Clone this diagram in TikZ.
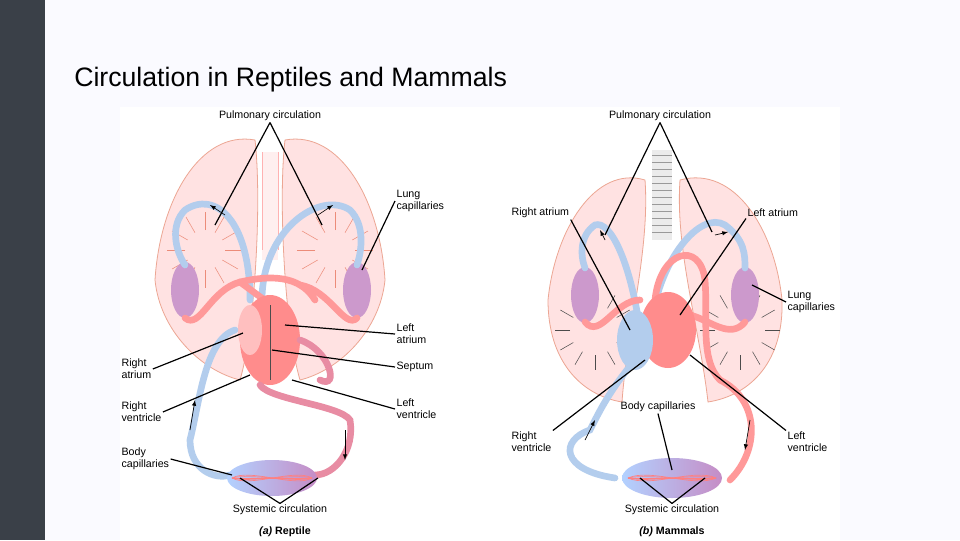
\documentclass[tikz,border=0pt]{standalone}
\usepackage{fontspec}
\setmainfont{Liberation Sans}
\definecolor{sidebar}{RGB}{58,64,72}
\begin{document}
\begin{tikzpicture}[x=0.75pt,y=-0.75pt,
 lbl/.style={font=\fontsize{8}{9}\selectfont,align=left,inner sep=1pt},
 captext/.style={font=\fontsize{8}{9}\selectfont,inner sep=1pt},
 lead/.style={black,line width=0.9pt},
 lung/.style={fill=pink!45,draw=red!40!brown!50,line width=0.6pt},
 twig/.style={draw=red!50!brown!60,line width=0.4pt},
 blue vessel/.style={draw=cyan!60!blue!30,line width=5pt,line cap=round},
 red vessel/.style={draw=red!40,line width=5pt,line cap=round},
 purple vessel/.style={draw=violet!40!red!45,line width=5pt,line cap=round},
 flow/.style={-latex,black,line width=0.5pt}]
\useasboundingbox (0,0) rectangle (960,540);
\fill[blue!2!white] (0,0) rectangle (960,540);
\fill[sidebar] (0,0) rectangle (45,540);
\node[anchor=west,font=\fontsize{20}{24}\selectfont,inner sep=0pt] (title) at (74,80) {Circulation in Reptiles and Mammals};
\fill[white] (120,107) rectangle (840,540);

% ===== Reptile =====
\draw[lung] (255,140) .. controls (200,130) and (160,200) .. (155,280) .. controls (160,330) and (200,370) .. (240,380) .. controls (255,330) and (262,200) .. (255,140);
\draw[lung] (285,140) .. controls (340,130) and (380,200) .. (385,280) .. controls (380,330) and (340,370) .. (300,380) .. controls (285,330) and (278,200) .. (285,140);
\foreach \a in {0,30,...,330} {
 \draw[twig] (205,250) ++(\a:20) -- ++(\a:18);
 \draw[twig] (335,250) ++(\a:20) -- ++(\a:18);}
\fill[pink!25] (262,152) rectangle (278,260);
\draw[red!30] (262,152) -- (262,250) (278,152) -- (278,250);
\fill[violet!40] (185,290) ellipse (14 and 28);
\fill[violet!40] (357,290) ellipse (14 and 28);
\draw[blue vessel] (250,300) .. controls (250,220) and (215,190) .. (185,210) .. controls (170,225) and (175,250) .. (185,265);
\draw[blue vessel] (262,300) .. controls (262,230) and (320,190) .. (350,210) .. controls (365,225) and (362,250) .. (357,265);
\draw[red vessel] (185,318) .. controls (200,330) and (210,290) .. (240,282) .. controls (270,275) and (300,275) .. (315,300);
\draw[red vessel] (357,318) .. controls (345,330) and (330,290) .. (300,285);
\draw[red vessel] (240,282) -- (278,310);
\fill[red!45] (270,340) ellipse (30 and 45);
\fill[red!25] (250,330) ellipse (12 and 25);
\draw[black!70] (270,305) -- (270,380);
\draw[blue vessel] (235,330) .. controls (205,340) and (200,400) .. (190,440) .. controls (190,470) and (215,480) .. (230,475);
\draw[purple vessel] (300,340) .. controls (330,350) and (340,390) .. (320,380);
\draw[purple vessel] (260,385) .. controls (270,400) and (340,405) .. (350,420) .. controls (355,450) and (335,475) .. (315,475);
\shade[left color=cyan!40!blue!30,right color=violet!45] (272,478) ellipse (45 and 18);
\foreach \i in {-30,-15,0,15,30} \draw[red!50,line width=0.5pt] (232,478) .. controls (250,478+\i/3) and (295,478-\i/3) .. (312,478);
\draw[flow] (190,430) -- (195,400);
\draw[flow] (345,430) -- (345,460);
\draw[flow] (225,215) -- (210,205);
\draw[flow] (318,215) -- (333,205);

\node[captext] (pa) at (270,116) {Pulmonary circulation};
\node[lbl,anchor=west] (lca) at (395,201) {Lung\\capillaries};
\node[lbl,anchor=west] (laa) at (395,334) {Left\\atrium};
\node[lbl,anchor=west] (sa) at (395,367) {Septum};
\node[lbl,anchor=west] (lva) at (395,409) {Left\\ventricle};
\node[lbl,anchor=west] (raa) at (120,369) {Right\\atrium};
\node[lbl,anchor=west] (rva) at (120,412) {Right\\ventricle};
\node[lbl,anchor=west] (bca) at (120,459) {Body\\capillaries};
\node[captext] (sca) at (280,510) {Systemic circulation};
\node[captext] (ra) at (285,532) {\textbf{\textit{(a)} Reptile}};
\coordinate (p1) at (215,225); \coordinate (p2) at (322,225);
\coordinate (c1) at (362,270); \coordinate (c2) at (285,325); \coordinate (c3) at (272,350);
\coordinate (c4) at (292,380); \coordinate (c5) at (243,333); \coordinate (c6) at (250,375);
\coordinate (c7) at (232,475); \coordinate (s1) at (240,478); \coordinate (s2) at (318,478);
\draw[lead] (pa.south) -- (p1); \draw[lead] (pa.south) -- (p2);
\draw[lead] (lca.west) -- (c1);
\draw[lead] (laa.west) -- (c2);
\draw[lead] (sa.west) -- (c3);
\draw[lead] (lva.west) -- (c4);
\draw[lead] (raa.east) -- (c5);
\draw[lead] (rva.east) -- (c6);
\draw[lead] (bca.east) -- (c7);
\draw[lead] (sca.north) -- (s1); \draw[lead] (sca.north) -- (s2);

% ===== Mammal =====
\draw[lung] (645,180) .. controls (595,165) and (555,230) .. (548,300) .. controls (548,360) and (580,395) .. (622,402) .. controls (627,330) and (650,250) .. (645,180);
\draw[lung] (680,180) .. controls (735,165) and (775,230) .. (782,300) .. controls (784,360) and (752,395) .. (708,402) .. controls (700,330) and (675,250) .. (680,180);
\foreach \a in {0,30,...,330} {
 \draw[black!70,line width=0.4pt] (595,330) ++(\a:25) -- ++(\a:15);
 \draw[black!70,line width=0.4pt] (740,330) ++(\a:25) -- ++(\a:15);}
\fill[black!8] (652,150) rectangle (672,240);
\foreach \y in {155,162,...,235} \draw[black!40] (652,\y) -- (672,\y);
\fill[violet!40] (585,295) ellipse (14 and 28);
\fill[violet!40] (745,295) ellipse (14 and 28);
\draw[blue vessel] (640,330) .. controls (630,260) and (610,220) .. (595,225) .. controls (580,235) and (580,255) .. (585,268);
\draw[blue vessel] (652,320) .. controls (660,260) and (700,210) .. (725,225) .. controls (745,240) and (745,255) .. (745,268);
\draw[red vessel] (585,322) .. controls (600,340) and (615,300) .. (640,300);
\draw[red vessel] (745,322) .. controls (730,340) and (710,320) .. (690,315);
\draw[red vessel] (655,300) .. controls (660,250) and (700,240) .. (705,280) .. controls (708,320) and (700,360) .. (720,380) .. controls (760,400) and (760,450) .. (730,480);
\fill[red!45] (668,330) ellipse (28 and 38);
\fill[cyan!60!blue!30] (635,340) ellipse (18 and 30);
\draw[blue vessel] (635,360) .. controls (610,390) and (600,410) .. (590,430) .. controls (560,440) and (560,470) .. (615,478);
\shade[left color=cyan!40!blue!30,right color=violet!45] (672,478) ellipse (50 and 20);
\foreach \i in {-30,-15,0,15,30} \draw[red!50,line width=0.5pt] (628,478) .. controls (650,478+\i/3) and (695,478-\i/3) .. (716,478);
\draw[flow] (585,440) -- (595,420);
\draw[flow] (750,420) -- (745,450);
\draw[flow] (605,240) -- (600,230);
\draw[flow] (715,235) -- (728,232);

\node[captext] (pb) at (660,116) {Pulmonary circulation};
\node[captext,anchor=west] (rab) at (510,213) {Right atrium};
\node[captext,anchor=west] (lab) at (746,213) {Left atrium};
\node[lbl,anchor=west] (lcb) at (786,302) {Lung\\capillaries};
\node[captext] (bcb) at (658,407) {Body capillaries};
\node[lbl,anchor=west] (rvb) at (510,442) {Right\\ventricle};
\node[lbl,anchor=west] (lvb) at (786,442) {Left\\ventricle};
\node[captext] (scb) at (672,510) {Systemic circulation};
\node[captext] (rb) at (672,532) {\textbf{\textit{(b)} Mammals}};
\coordinate (q1) at (605,235); \coordinate (q2) at (712,232);
\coordinate (d1) at (630,330); \coordinate (d2) at (680,315);
\coordinate (d3) at (752,285); \coordinate (d4) at (672,470);
\coordinate (d5) at (645,360); \coordinate (d6) at (690,355);
\coordinate (t1) at (640,478); \coordinate (t2) at (705,478);
\draw[lead] (pb.south) -- (q1); \draw[lead] (pb.south) -- (q2);
\draw[lead] (rab.south east) -- (d1);
\draw[lead] (lab.south west) -- (d2);
\draw[lead] (lcb.west) -- (d3);
\draw[lead] (bcb.south) -- (d4);
\draw[lead] (rvb.north east) -- (d5);
\draw[lead] (lvb.north west) -- (d6);
\draw[lead] (scb.north) -- (t1); \draw[lead] (scb.north) -- (t2);
\end{tikzpicture}
\end{document}
